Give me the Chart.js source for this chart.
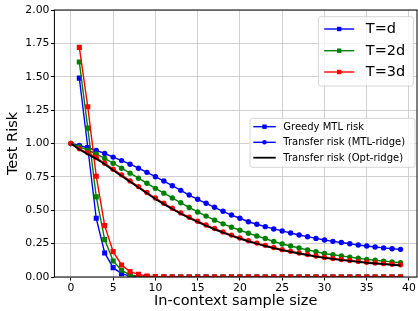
<!DOCTYPE html>
<html>
<head>
<meta charset="utf-8">
<script src="https://cdn.jsdelivr.net/npm/chart.js@4.4.0/dist/chart.umd.min.js"></script>
<style>
  html, body { margin: 0; padding: 0; background: #fff; overflow: hidden; }
  #wrap { width: 418px; height: 311px; overflow: hidden; }
</style>
</head>
<body>
<div id="wrap"><canvas id="riskChart" width="421" height="311"></canvas></div>
<script>
// x values (in-context sample size)
const sampleSizes = [0, 1, 2, 3, 4, 5, 6, 7, 8, 9, 10, 11, 12, 13, 14, 15, 16, 17, 18, 19,
  20, 21, 22, 23, 24, 25, 26, 27, 28, 29, 30, 31, 32, 33, 34, 35, 36, 37, 38, 39];
const greedySizes = [1, 2, 3, 4, 5, 6, 7, 8, 9, 10, 11, 12, 13, 14, 15, 16, 17, 18, 19,
  20, 21, 22, 23, 24, 25, 26, 27, 28, 29, 30, 31, 32, 33, 34, 35, 36, 37, 38, 39];

// Greedy MTL risk (squares)
const greedyD = [1.49, 0.97, 0.44, 0.18, 0.07, 0.025, 0.007, 0.002, 0.001,
  0, 0, 0, 0, 0, 0, 0, 0, 0, 0, 0, 0, 0, 0, 0, 0, 0, 0, 0, 0, 0, 0, 0, 0, 0, 0, 0, 0, 0, 0];
const greedy2D = [1.61, 1.115, 0.60, 0.28, 0.12, 0.05, 0.016, 0.006, 0.002, 0.001,
  0, 0, 0, 0, 0, 0, 0, 0, 0, 0, 0, 0, 0, 0, 0, 0, 0, 0, 0, 0, 0, 0, 0, 0, 0, 0, 0, 0, 0];
const greedy3D = [1.72, 1.275, 0.755, 0.385, 0.19, 0.09, 0.04, 0.02, 0.008, 0.003, 0.001,
  0, 0, 0, 0, 0, 0, 0, 0, 0, 0, 0, 0, 0, 0, 0, 0, 0, 0, 0, 0, 0, 0, 0, 0, 0, 0, 0, 0];

// Transfer risk (MTL-ridge), circles
const transferD = [1.0, 0.985, 0.968, 0.948, 0.925, 0.898, 0.872, 0.845, 0.815, 0.784,
  0.751, 0.719, 0.684, 0.649, 0.614, 0.582, 0.552, 0.522, 0.492, 0.464,
  0.44, 0.414, 0.395, 0.377, 0.36, 0.345, 0.33, 0.315, 0.302, 0.289,
  0.277, 0.267, 0.258, 0.249, 0.24, 0.232, 0.225, 0.218, 0.212, 0.207];
const transfer2D = [1.0, 0.975, 0.95, 0.922, 0.888, 0.852, 0.815, 0.778, 0.74, 0.702,
  0.664, 0.628, 0.592, 0.556, 0.521, 0.487, 0.456, 0.426, 0.398, 0.373,
  0.35, 0.328, 0.307, 0.288, 0.266, 0.247, 0.232, 0.217, 0.203, 0.189,
  0.176, 0.167, 0.158, 0.149, 0.14, 0.132, 0.125, 0.119, 0.113, 0.107];
const transfer3D = [1.0, 0.96, 0.93, 0.895, 0.852, 0.808, 0.765, 0.72, 0.677, 0.633,
  0.592, 0.552, 0.515, 0.48, 0.448, 0.418, 0.39, 0.363, 0.338, 0.314,
  0.292, 0.272, 0.254, 0.237, 0.221, 0.205, 0.192, 0.18, 0.168, 0.157,
  0.147, 0.139, 0.131, 0.124, 0.117, 0.11, 0.105, 0.1, 0.095, 0.091];

// Transfer risk (Opt-ridge), black line
const optRidge = [1.0, 0.955, 0.92, 0.885, 0.845, 0.8, 0.757, 0.713, 0.67, 0.627,
  0.585, 0.546, 0.509, 0.474, 0.442, 0.412, 0.384, 0.357, 0.332, 0.309,
  0.287, 0.267, 0.249, 0.232, 0.216, 0.201, 0.188, 0.176, 0.164, 0.153,
  0.143, 0.135, 0.127, 0.12, 0.113, 0.106, 0.101, 0.096, 0.091, 0.087];

const xTickValues = [0, 5, 10, 15, 20, 25, 30, 35, 40];
const yTickValues = [0, 0.25, 0.5, 0.75, 1.0, 1.25, 1.5, 1.75, 2.0];

const FONT = 'DejaVu Sans';

function pts(xs, ys) {
  return xs.map((x, i) => ({ x: x, y: ys[i] }));
}

function greedySet(label, ys, color, order) {
  return {
    label: label, data: pts(greedySizes, ys), order: order,
    borderColor: color, backgroundColor: color, borderWidth: 1.4,
    pointStyle: 'rect', pointRadius: 3.6, pointBorderWidth: 0,
    tension: 0, fill: false, clip: 0
  };
}

function transferSet(label, ys, color, order) {
  return {
    label: label, data: pts(sampleSizes, ys), order: order,
    borderColor: color, backgroundColor: color, borderWidth: 1.4,
    pointStyle: 'circle', pointRadius: 2.7, pointBorderWidth: 0,
    tension: 0, fill: false, clip: 0
  };
}

const datasets = [
  { label: 'Opt-ridge', data: pts(sampleSizes, optRidge), order: 0,
    borderColor: '#000000', borderWidth: 1.8, pointRadius: 0, tension: 0, fill: false, clip: 0 },
  transferSet('MTL-ridge T=3d', transfer3D, '#ff0000', 1),
  greedySet('Greedy T=3d', greedy3D, '#ff0000', 2),
  transferSet('MTL-ridge T=2d', transfer2D, '#008000', 3),
  greedySet('Greedy T=2d', greedy2D, '#008000', 4),
  transferSet('MTL-ridge T=d', transferD, '#0000ff', 5),
  greedySet('Greedy T=d', greedyD, '#0000ff', 6)
];

function drawBox(ctx, x, y, w, h) {
  const r = 2.5;
  ctx.beginPath();
  ctx.moveTo(x + r, y);
  ctx.arcTo(x + w, y, x + w, y + h, r);
  ctx.arcTo(x + w, y + h, x, y + h, r);
  ctx.arcTo(x, y + h, x, y, r);
  ctx.arcTo(x, y, x + w, y, r);
  ctx.closePath();
  ctx.fillStyle = 'rgba(255,255,255,0.8)';
  ctx.fill();
  ctx.strokeStyle = '#cccccc';
  ctx.lineWidth = 0.8;
  ctx.stroke();
}

function drawHandle(ctx, x0, x1, y, color, marker, lw) {
  ctx.strokeStyle = color;
  ctx.lineWidth = lw;
  ctx.beginPath();
  ctx.moveTo(x0, y);
  ctx.lineTo(x1, y);
  ctx.stroke();
  const cx = (x0 + x1) / 2;
  ctx.fillStyle = color;
  if (marker === 'rect') {
    ctx.fillRect(cx - 2.2, y - 2.2, 4.4, 4.4);
  } else if (marker === 'circle') {
    ctx.beginPath();
    ctx.arc(cx, y, 2.3, 0, Math.PI * 2);
    ctx.fill();
  }
}

const framePlugin = {
  id: 'frame',
  afterDatasetsDraw(chart) {
    const { ctx, chartArea: ca } = chart;
    ctx.save();
    ctx.strokeStyle = '#000';
    ctx.lineWidth = 1;
    ctx.strokeRect(ca.left, ca.top, ca.right - ca.left, ca.bottom - ca.top);
    ctx.restore();
  },
  afterDraw(chart) {
    const { ctx, chartArea: ca } = chart;
    ctx.save();
    ctx.textBaseline = 'middle';
    ctx.textAlign = 'left';

    // legend for T
    const b1 = { x: ca.left + 264, y: ca.top + 6.7, w: 95, h: 69.3 };
    drawBox(ctx, b1.x, b1.y, b1.w, b1.h);
    const tRows = [['T=d', '#0000ff', 12.3], ['T=2d', '#008000', 34], ['T=3d', '#ff0000', 55.3]];
    ctx.font = '14.5px "' + FONT + '"';
    tRows.forEach(r => {
      const y = b1.y + r[2];
      drawHandle(ctx, b1.x + 5.8, b1.x + 35.8, y, r[1], 'rect', 1.4);
      ctx.fillStyle = '#000';
      ctx.fillText(r[0], b1.x + 47.4, y + 0.5);
    });

    // legend for risk types
    const b2 = { x: ca.left + 195.6, y: (ca.top + ca.bottom) / 2 - 25.2, w: 165, h: 49 };
    drawBox(ctx, b2.x, b2.y, b2.w, b2.h);
    const kRows = [['Greedy MTL risk', '#0000ff', 'rect', 8.4],
                   ['Transfer risk (MTL-ridge)', '#0000ff', 'circle', 24],
                   ['Transfer risk (Opt-ridge)', '#000000', null, 39.4]];
    ctx.font = '10px "' + FONT + '"';
    kRows.forEach(r => {
      const y = b2.y + r[3];
      drawHandle(ctx, b2.x + 3.3, b2.x + 25.7, y, r[1], r[2], r[2] ? 1.4 : 1.8);
      ctx.fillStyle = '#000';
      ctx.fillText(r[0], b2.x + 33.3, y + 0.5);
    });
    ctx.restore();
  }
};

const tickFont = { family: FONT, size: 10.8 };
const titleFont = { family: FONT, size: 14.5 };
const gridStyle = { color: '#c4c4c4', lineWidth: 0.8, tickColor: '#000', tickLength: 3.5, tickWidth: 1 };

new Chart(document.getElementById('riskChart'), {
  type: 'line',
  data: { datasets: datasets },
  options: {
    responsive: false,
    animation: false,
    devicePixelRatio: 1,
    layout: { padding: { top: 10, right: 0.7, left: 0, bottom: 0 } },
    plugins: { legend: { display: false }, tooltip: { enabled: false } },
    scales: {
      x: {
        type: 'linear', min: -1.95, max: 40.95,
        afterBuildTicks: s => { s.ticks = xTickValues.map(v => ({ value: v })); },
        afterFit: s => { s.height = 34; },
        ticks: { color: '#000', font: tickFont, padding: 1, maxRotation: 0, autoSkip: false,
                 callback: v => String(v) },
        grid: gridStyle,
        border: { display: false },
        title: { display: true, text: 'In-context sample size', color: '#000', font: titleFont,
                 padding: { top: 0, bottom: 0.6 } }
      },
      y: {
        type: 'linear', min: 0, max: 2,
        afterBuildTicks: s => { s.ticks = yTickValues.map(v => ({ value: v })); },
        afterFit: s => { s.width = 54.4; },
        ticks: { color: '#000', font: tickFont, padding: 1.5, autoSkip: false,
                 callback: v => v.toFixed(2) },
        grid: gridStyle,
        border: { display: false },
        title: { display: true, text: 'Test Risk', color: '#000', font: titleFont,
                 padding: { top: 4.6, bottom: 0 } }
      }
    }
  },
  plugins: [framePlugin]
});
</script>
</body>
</html>
